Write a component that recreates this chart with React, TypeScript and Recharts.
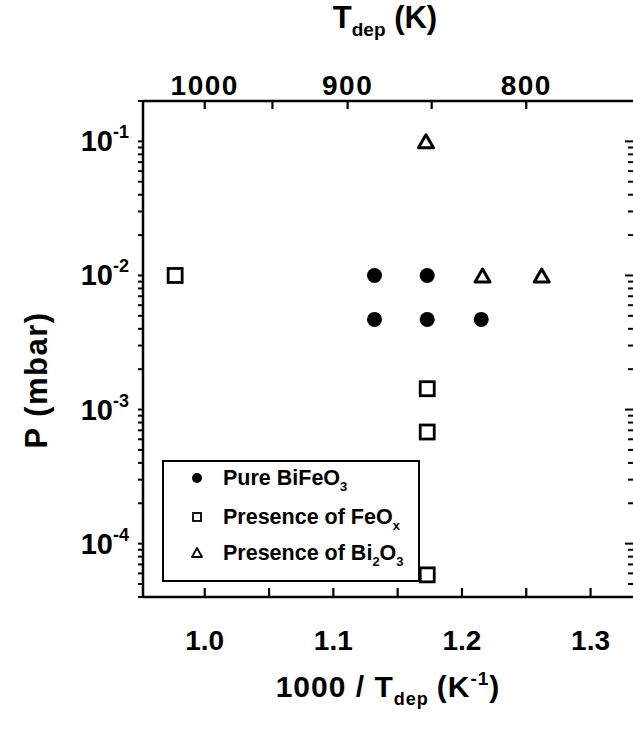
import React from "react";
import { Scatter, ScatterChart, XAxis, YAxis } from "recharts";

const FONT = "'Liberation Sans', Arial, Helvetica, sans-serif";
const INK = "#000000";

// 1000/T_dep (K^-1) against P (mbar)
const PURE_X = [1.132, 1.132, 1.173, 1.173, 1.215];
const PURE_P = [0.01, 0.0047, 0.01, 0.0047, 0.0047];
const FEOX_X = [0.977, 1.173, 1.173, 1.173];
const FEOX_P = [0.01, 0.00143, 0.00068, 0.0000585];
const BI2O3_X = [1.172, 1.216, 1.262];
const BI2O3_P = [0.1, 0.01, 0.01];

const X_DOMAIN = [0.952, 1.333];
const P_DOMAIN = [4e-5, 0.2];
const X_TICKS = [1.0, 1.05, 1.1, 1.15, 1.2, 1.25, 1.3];
const X_MAJOR = [1.0, 1.1, 1.2, 1.3];
const T_TICKS = [1000, 950, 900, 850, 800];
const T_LABELS = [1000, 900, 800];
const P_EXPONENTS = [-5, -4, -3, -2, -1];
const P_MANTISSAS = [1, 2, 3, 4, 5, 6, 7, 8, 9];

const rows = (xs: number[], ps: number[]) => xs.map((x, i) => ({ x, p: ps[i] }));
const pureData = rows(PURE_X, PURE_P);
const feoxData = rows(FEOX_X, FEOX_P);
const bi2o3Data = rows(BI2O3_X, BI2O3_P);

const pTicks = P_EXPONENTS.flatMap((e) => P_MANTISSAS.map((m) => m * Math.pow(10, e))).filter(
  (v) => v >= P_DOMAIN[0] && v <= P_DOMAIN[1]
);
const tTicks = T_TICKS.map((t) => 1000 / t);
const rightMarks = pTicks.map((p) => ({ x: X_DOMAIN[1], p }));

const isDecade = (v: number) => {
  const l = Math.log10(v);
  return Math.abs(l - Math.round(l)) < 1e-6;
};
const isMajorX = (v: number) => X_MAJOR.some((m) => Math.abs(m - v) < 1e-6);

const txt = { fontFamily: FONT, fontWeight: 700, fill: INK } as const;
const tickLine = { stroke: INK, strokeWidth: 2.2 };
const axisLine = { stroke: INK, strokeWidth: 2.5 };

function BottomTick(props: any) {
  const { x, y, payload } = props;
  const v = payload.value;
  if (!isMajorX(v)) return <g />;
  return (
    <text x={x} y={y + 62} textAnchor="middle" fontSize={28} {...txt}>
      {v.toFixed(1)}
    </text>
  );
}

function TopTick(props: any) {
  const { x, y, payload } = props;
  const t = Math.round(1000 / payload.value);
  if (!T_LABELS.includes(t)) return <g />;
  return (
    <text x={x} y={y - 14} textAnchor="middle" fontSize={28} letterSpacing={1.5} {...txt}>
      {t}
    </text>
  );
}

function LeftTick(props: any) {
  const { x, y, payload } = props;
  const v = payload.value;
  if (!isDecade(v)) return <g />;
  return (
    <text x={x - 9} y={y + 10} textAnchor="end" fontSize={29} {...txt}>
      10
      <tspan fontSize={18} dy={-13}>
        {Math.round(Math.log10(v))}
      </tspan>
    </text>
  );
}

const RightMark = (p: any) => (
  <path d={`M${p.cx},${p.cy}H${p.cx - (isDecade(p.payload.p) ? 8 : 5)}`} stroke={INK} strokeWidth={2} fill="none" />
);
const DotShape = (p: any) => <circle cx={p.cx} cy={p.cy} r={7.5} fill={INK} />;
const SquareShape = (p: any) => (
  <rect x={p.cx - 7} y={p.cy - 7} width={14} height={14} fill="#fff" stroke={INK} strokeWidth={2.8} />
);
const TriangleShape = (p: any) => (
  <polygon
    points={`${p.cx},${p.cy - 6.5} ${p.cx + 7.5},${p.cy + 6.5} ${p.cx - 7.5},${p.cy + 6.5}`}
    fill="#fff"
    stroke={INK}
    strokeWidth={3}
    strokeLinejoin="round"
  />
);
const NoShape = () => <g />;

function TopTitle(props: any) {
  const { viewBox } = props;
  return (
    <text x={viewBox.x + viewBox.width / 2 - 3} y={28} textAnchor="middle" fontSize={31} {...txt}>
      T
      <tspan fontSize={19} dy={8}>
        dep
      </tspan>
      <tspan dy={-8}> (K)</tspan>
    </text>
  );
}

function BottomTitle(props: any) {
  const { viewBox } = props;
  return (
    <text x={viewBox.x + viewBox.width / 2} y={697} textAnchor="middle" fontSize={30} letterSpacing={1} {...txt}>
      1000 / T
      <tspan fontSize={18} dy={8}>
        dep
      </tspan>
      <tspan dy={-8} dx={8}>
        (K
      </tspan>
      <tspan fontSize={19} dy={-12}>
        -1
      </tspan>
      <tspan dy={12}>)</tspan>
    </text>
  );
}

function LeftTitle() {
  return (
    <text x={47} y={380} transform="rotate(-90 47 380)" textAnchor="middle" fontSize={31} letterSpacing={1.5} {...txt}>
      P (mbar)
    </text>
  );
}

const sub = { fontSize: 13, position: "relative", top: 6 } as const;

function LegendBox() {
  const row = (top: number, icon: React.ReactNode, label: React.ReactNode) => (
    <div style={{ position: "absolute", left: 0, top: top - 13, height: 26, width: "100%" }}>
      <svg width={20} height={20} style={{ position: "absolute", left: 23, top: 3 }}>
        {icon}
      </svg>
      <div style={{ position: "absolute", left: 59, top: 0, lineHeight: "26px", whiteSpace: "nowrap" }}>{label}</div>
    </div>
  );
  return (
    <div
      style={{
        position: "absolute",
        left: 162,
        top: 460,
        width: 258,
        height: 122,
        boxSizing: "border-box",
        border: "2px solid #000",
        background: "#fff",
        fontFamily: FONT,
        fontWeight: 700,
        fontSize: 21.5,
        color: INK,
      }}
    >
      {row(16, <circle cx={10} cy={10} r={5} fill={INK} />, <>Pure BiFeO<span style={sub}>3</span></>)}
      {row(
        55,
        <rect x={6} y={6} width={8} height={8} fill="#fff" stroke={INK} strokeWidth={1.8} />,
        <>Presence of FeO<span style={sub}>x</span></>
      )}
      {row(
        91,
        <polygon points="10,5 15,14 5,14" fill="#fff" stroke={INK} strokeWidth={1.8} strokeLinejoin="round" />,
        <>Presence of Bi<span style={sub}>2</span>O<span style={sub}>3</span></>
      )}
    </div>
  );
}

export default function App() {
  return (
    <div style={{ position: "absolute", left: 0, top: 0, width: 633, height: 730, background: "#fff" }}>
      <ScatterChart width={633} height={730} margin={{ top: 0, right: 0, bottom: 0, left: 0 }}>
        <XAxis
          xAxisId="b"
          dataKey="x"
          type="number"
          domain={X_DOMAIN}
          ticks={X_TICKS}
          interval={0}
          height={133}
          tickSize={-9}
          tickMargin={0}
          tickLine={tickLine}
          tick={<BottomTick />}
          axisLine={axisLine}
          label={<BottomTitle />}
        />
        <XAxis
          xAxisId="t"
          dataKey="x"
          orientation="top"
          type="number"
          domain={X_DOMAIN}
          ticks={tTicks}
          interval={0}
          height={101}
          tickSize={-8}
          tickMargin={0}
          tickLine={tickLine}
          tick={<TopTick />}
          axisLine={axisLine}
          label={<TopTitle />}
        />
        <YAxis
          yAxisId="l"
          dataKey="p"
          type="number"
          scale="log"
          domain={P_DOMAIN}
          ticks={pTicks}
          interval={0}
          width={143}
          tickSize={5}
          tickMargin={0}
          tickLine={{ stroke: INK, strokeWidth: 2 }}
          tick={<LeftTick />}
          axisLine={axisLine}
          label={<LeftTitle />}
        />
        <YAxis
          yAxisId="r"
          dataKey="p"
          orientation="right"
          type="number"
          scale="log"
          domain={P_DOMAIN}
          ticks={pTicks}
          width={0}
          tick={false}
          tickLine={false}
          axisLine={false}
        />
        {/* carries the secondary T axis */}
        <Scatter data={feoxData} xAxisId="t" yAxisId="r" shape={NoShape} legendType="none" isAnimationActive={false} />
        <Scatter data={rightMarks} xAxisId="b" yAxisId="r" shape={RightMark} legendType="none" isAnimationActive={false} />
        <Scatter name="Pure BiFeO3" data={pureData} xAxisId="b" yAxisId="l" shape={DotShape} isAnimationActive={false} />
        <Scatter name="Presence of FeOx" data={feoxData} xAxisId="b" yAxisId="l" shape={SquareShape} isAnimationActive={false} />
        <Scatter name="Presence of Bi2O3" data={bi2o3Data} xAxisId="b" yAxisId="l" shape={TriangleShape} isAnimationActive={false} />
      </ScatterChart>
      <LegendBox />
    </div>
  );
}
